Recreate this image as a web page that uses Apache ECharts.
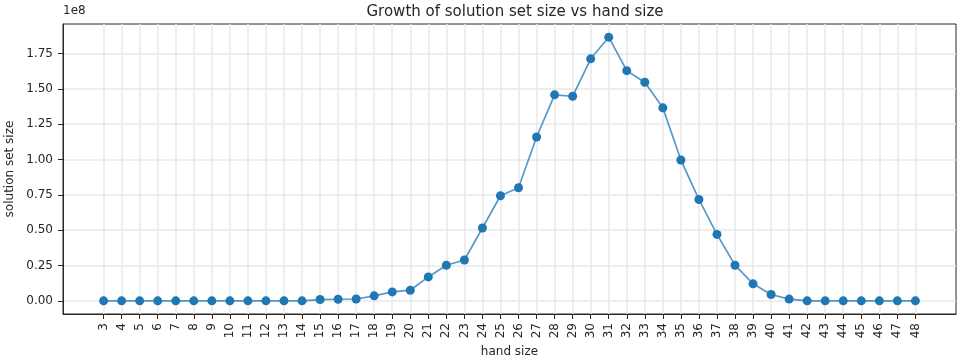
<!DOCTYPE html>
<html>
<head>
<meta charset="utf-8">
<script src="https://cdn.jsdelivr.net/npm/echarts@6/dist/echarts.min.js"></script>
<style>
  html, body { margin: 0; padding: 0; background: #fff; }
  #chart { width: 959px; height: 360px; }
</style>
</head>
<body>
<div id="chart"></div>
<script>
// Hand sizes on the x axis
const handSizes = [3, 4, 5, 6, 7, 8, 9, 10, 11, 12, 13, 14, 15, 16, 17, 18, 19, 20, 21, 22, 23, 24, 25,
  26, 27, 28, 29, 30, 31, 32, 33, 34, 35, 36, 37, 38, 39, 40, 41, 42, 43, 44, 45, 46, 47, 48];

// Number of solutions found for each hand size
const solutionSizes = [0, 0, 0, 0, 0, 0, 0, 0, 0, 0, 0, 0, 900000, 1100000, 1300000, 3500000,
  6300000, 7500000, 16900000, 25200000, 28900000, 51500000, 74300000, 80000000, 115900000,
  145700000, 144700000, 171200000, 186500000, 162800000, 154600000, 136500000, 99600000,
  71700000, 47000000, 25200000, 12000000, 4500000, 1200000, 0, 0, 0, 0, 0, 0, 0];

// Y tick positions (raw counts) shown as multiples of 1e8
const yTicks = [0, 25000000, 50000000, 75000000, 100000000, 125000000, 150000000, 175000000];

const titleText = 'Growth of solution set size vs hand size';
const xName = 'hand size';
const yName = 'solution set size';
const offsetText = '1e8';

const points = handSizes.map((h, i) => [h, solutionSizes[i]]);

// 5% padding around the data, like the default autoscale margins
const xSpan = handSizes[handSizes.length - 1] - handSizes[0];
const xMin = handSizes[0] - 0.05 * xSpan;
const xMax = handSizes[handSizes.length - 1] + 0.05 * xSpan;
const yTop = Math.max(...solutionSizes);
const yMin = -0.05 * yTop;
const yMax = yTop * 1.05;

const font = 'DejaVu Sans';
const ink = '#262626';
const gridColor = '#e9e9e9';

const chart = echarts.init(document.getElementById('chart'), null, { renderer: 'canvas' });
chart.setOption({
  animation: false,
  backgroundColor: '#fff',
  title: {
    text: titleText,
    left: 510,
    top: 0,
    textAlign: 'center',
    textStyle: { fontFamily: font, fontSize: 15, fontWeight: 'normal', color: ink }
  },
  graphic: [{
    type: 'text',
    left: 63,
    top: 5,
    style: { text: offsetText, font: '12px "DejaVu Sans"', fill: ink }
  }],
  grid: {
    left: 63, right: 3, top: 24, bottom: 46,
    outerBoundsMode: 'none',
    containLabel: false,
    show: true, borderColor: ink, borderWidth: 1, backgroundColor: 'transparent'
  },
  xAxis: {
    type: 'value',
    min: xMin,
    max: xMax,
    name: xName,
    nameLocation: 'middle',
    nameGap: 32,
    nameTextStyle: { fontFamily: font, fontSize: 12, color: ink },
    axisLine: { show: true, onZero: false, lineStyle: { color: ink, width: 1 } },
    axisTick: { show: true, length: 5, customValues: handSizes, lineStyle: { color: ink, width: 1 } },
    axisLabel: {
      customValues: handSizes,
      rotate: 90,
      margin: 9,
      fontFamily: font, fontSize: 12, color: ink,
      formatter: v => String(v)
    },
    splitLine: { show: true, lineStyle: { color: gridColor, width: 1.5 } }
  },
  yAxis: {
    type: 'value',
    min: yMin,
    max: yMax,
    name: yName,
    nameLocation: 'middle',
    nameGap: 46,
    nameTextStyle: { fontFamily: font, fontSize: 12, color: ink },
    axisLine: { show: true, onZero: false, lineStyle: { color: ink, width: 1 } },
    axisTick: { show: true, length: 5, customValues: yTicks, lineStyle: { color: ink, width: 1 } },
    axisLabel: {
      customValues: yTicks,
      margin: 10,
      fontFamily: font, fontSize: 12, color: ink,
      formatter: v => (v / 1e8).toFixed(2)
    },
    splitLine: { show: true, lineStyle: { color: gridColor, width: 1.5 } }
  },
  series: [{
    type: 'line',
    data: points,
    symbol: 'circle',
    symbolSize: 9,
    itemStyle: { color: '#1f77b4' },
    lineStyle: { color: '#1f77b4', width: 1.7, opacity: 0.75 },
    z: 3
  }]
});
</script>
</body>
</html>
